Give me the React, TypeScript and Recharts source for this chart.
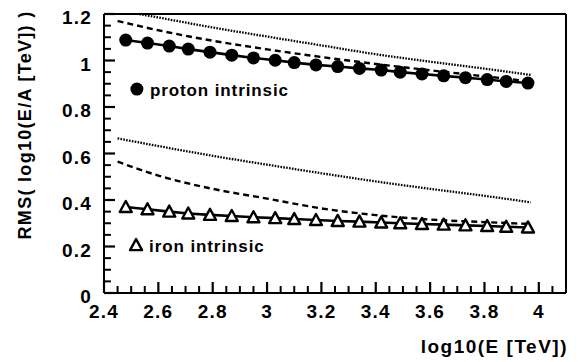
import { Line, LineChart, ReferenceLine, XAxis, YAxis } from "recharts";

// energy bins (log10 E [TeV]) where the intrinsic RMS points sit
const energyBins = [2.48, 2.56, 2.64, 2.71, 2.79, 2.87, 2.95, 3.03, 3.1, 3.18, 3.26, 3.34, 3.42, 3.49, 3.57, 3.65, 3.73, 3.81, 3.88, 3.96];
const protonIntrinsic = [1.088, 1.075, 1.062, 1.049, 1.036, 1.023, 1.011, 1.001, 0.991, 0.981, 0.974, 0.966, 0.959, 0.95, 0.942, 0.934, 0.926, 0.918, 0.91, 0.903];
const ironIntrinsic = [0.37, 0.36, 0.35, 0.342, 0.336, 0.331, 0.326, 0.322, 0.318, 0.314, 0.31, 0.307, 0.303, 0.3, 0.297, 0.294, 0.291, 0.288, 0.285, 0.282];

// curve sample points
const curveX = [2.45, 2.6, 2.8, 3.0, 3.2, 3.4, 3.6, 3.8, 3.97];
const protonDottedX = [2.53, 2.6, 2.8, 3.0, 3.2, 3.4, 3.6, 3.8, 3.97];
const protonDotted = [1.2, 1.185, 1.142, 1.103, 1.065, 1.027, 0.995, 0.965, 0.938];
const protonDashed = [1.17, 1.13, 1.085, 1.048, 1.015, 0.985, 0.958, 0.932, 0.91];
const ironDotted = [0.665, 0.632, 0.59, 0.552, 0.515, 0.48, 0.448, 0.418, 0.39];
const ironDashed = [0.565, 0.505, 0.448, 0.406, 0.364, 0.335, 0.316, 0.305, 0.297];

// legend keys inside the frame
const protonKey = [{ x: 2.521, y: 0.877, name: "proton intrinsic" }];
const ironKey = [{ x: 2.518, y: 0.206, name: "iron intrinsic" }];

const xMajor = [2.4, 2.6, 2.8, 3, 3.2, 3.4, 3.6, 3.8, 4];
const xMinor = [2.45, 2.5, 2.55, 2.65, 2.7, 2.75, 2.85, 2.9, 2.95, 3.05, 3.1, 3.15, 3.25, 3.3, 3.35, 3.45, 3.5, 3.55, 3.65, 3.7, 3.75, 3.85, 3.9, 3.95, 4.05];
const yMajor = [0, 0.2, 0.4, 0.6, 0.8, 1, 1.2];
const yMinor = [0.05, 0.1, 0.15, 0.25, 0.3, 0.35, 0.45, 0.5, 0.55, 0.65, 0.7, 0.75, 0.85, 0.9, 0.95, 1.05, 1.1, 1.15];

const X_MIN = 2.4;
const X_MAX = 4.1;
const Y_MIN = 0;
const Y_MAX = 1.2;

const toPoints = (xs: number[], ys: number[]) => xs.map((x, i) => ({ x, y: ys[i] }));

const font = "'Liberation Sans', Arial, sans-serif";
const ink = "#000";

const fmt = (v: number) => String(Number(Number(v).toFixed(2)));

function renderXTick(props: any) {
  return (
    <text key={`xt-${props.index}`} x={props.x} y={Number(props.y) + 36} textAnchor="middle" fontFamily={font} fontWeight="bold" fontSize={19} letterSpacing={1.2} fill={ink}>
      {fmt(props.payload.value)}
    </text>
  );
}

function renderYTick(props: any) {
  return (
    <text key={`yt-${props.index}`} x={Number(props.x) - 23} y={Number(props.y) + 10} textAnchor="end" fontFamily={font} fontWeight="bold" fontSize={19} letterSpacing={1.2} fill={ink}>
      {fmt(props.payload.value)}
    </text>
  );
}

function Triangle({ cx, cy }: any) {
  if (cx == null || cy == null) return <g />;
  return <path d={`M${cx - 6},${cy + 5} L${cx + 6},${cy + 5} L${cx},${cy - 6} Z`} fill="#fff" stroke={ink} strokeWidth={2.4} strokeLinejoin="round" />;
}

function Disc({ cx, cy }: any) {
  if (cx == null || cy == null) return <g />;
  return <circle cx={cx} cy={cy} r={6.5} fill={ink} />;
}

function keyLabel(text: string) {
  return (props: any) => (
    <text x={Number(props.x) + 13} y={Number(props.y) + 7} fontFamily={font} fontWeight="bold" fontSize={17} letterSpacing={0.9} fill={ink}>
      {text}
    </text>
  );
}

export default function App() {
  return (
    <div style={{ position: "absolute", left: 0, top: 0, background: "#fff" }}>
      <LineChart width={581} height={362} margin={{ top: 14, right: 15, bottom: 0, left: 0 }}>
        <XAxis
          type="number"
          dataKey="x"
          domain={[X_MIN, X_MAX]}
          ticks={xMajor}
          height={69}
          stroke={ink}
          axisLine={{ stroke: ink, strokeWidth: 2 }}
          tickLine={{ stroke: ink, strokeWidth: 2.2 }}
          tickSize={-11}
          tickMargin={0}
          tick={renderXTick}
          label={({ viewBox }: any) => (
            <text x={viewBox.x + viewBox.width + 2} y={viewBox.y + 60} textAnchor="end" fontFamily={font} fontWeight="bold" fontSize={19} letterSpacing={1.5} fill={ink}>
              log10(E [TeV])
            </text>
          )}
        />
        <YAxis
          type="number"
          domain={[Y_MIN, Y_MAX]}
          ticks={yMajor}
          width={104}
          stroke={ink}
          axisLine={{ stroke: ink, strokeWidth: 2 }}
          tickLine={{ stroke: ink, strokeWidth: 2.2 }}
          tickSize={-11}
          tickMargin={0}
          tick={renderYTick}
          label={({ viewBox }: any) => (
            <text x={viewBox.x + 31} y={viewBox.y + 111} transform={`rotate(-90 ${viewBox.x + 31} ${viewBox.y + 111})`} textAnchor="middle" fontFamily={font} fontWeight="bold" fontSize={18} letterSpacing={1.3} fill={ink}>
              RMS( log10(E/A [TeV]) )
            </text>
          )}
        />

        {/* frame top and right */}
        <ReferenceLine y={Y_MAX} stroke={ink} strokeWidth={2} />
        <ReferenceLine x={X_MAX} stroke={ink} strokeWidth={2} />

        {/* minor ticks pointing inward */}
        {xMinor.map((v) => (
          <ReferenceLine key={`xm-${v}`} segment={[{ x: v, y: Y_MIN }, { x: v, y: Y_MIN + (Y_MAX - Y_MIN) * 0.025 }]} stroke={ink} strokeWidth={2} />
        ))}
        {yMinor.map((v) => (
          <ReferenceLine key={`ym-${v}`} segment={[{ x: X_MIN, y: v }, { x: X_MIN + (X_MAX - X_MIN) * 0.015, y: v }]} stroke={ink} strokeWidth={2} />
        ))}

        <Line data={toPoints(protonDottedX, protonDotted)} dataKey="y" type="monotone" stroke={ink} strokeWidth={2.3} strokeDasharray="1.6 1.3" dot={false} isAnimationActive={false} />
        <Line data={toPoints(curveX, protonDashed)} dataKey="y" type="monotone" stroke={ink} strokeWidth={2.4} strokeDasharray="6 4" dot={false} isAnimationActive={false} />
        <Line data={toPoints(curveX, ironDotted)} dataKey="y" type="monotone" stroke={ink} strokeWidth={2.3} strokeDasharray="1.6 1.3" dot={false} isAnimationActive={false} />
        <Line data={toPoints(curveX, ironDashed)} dataKey="y" type="monotone" stroke={ink} strokeWidth={2.4} strokeDasharray="6 4" dot={false} isAnimationActive={false} />
        <Line data={toPoints(energyBins, protonIntrinsic)} dataKey="y" type="linear" stroke={ink} strokeWidth={2.6} dot={<Disc />} isAnimationActive={false} />
        <Line data={toPoints(energyBins, ironIntrinsic)} dataKey="y" type="linear" stroke={ink} strokeWidth={2.6} dot={<Triangle />} isAnimationActive={false} />

        <Line data={protonKey} dataKey="y" stroke="none" dot={<Disc />} label={keyLabel(protonKey[0].name)} isAnimationActive={false} />
        <Line data={ironKey} dataKey="y" stroke="none" dot={<Triangle />} label={keyLabel(ironKey[0].name)} isAnimationActive={false} />
      </LineChart>
    </div>
  );
}
